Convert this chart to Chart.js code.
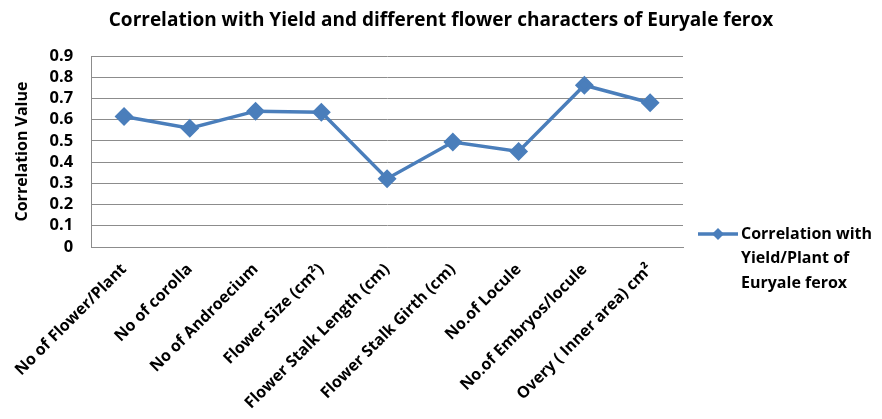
<!DOCTYPE html>
<html>
<head>
<meta charset="utf-8">
<script src="https://cdn.jsdelivr.net/npm/chart.js@4"></script>
<style>
    html, body { margin: 0; padding: 0; background: #fff; }
    #wrap { width: 882px; height: 419px; }
</style>
</head>
<body>
<div id="wrap"><canvas id="corrChart"></canvas></div>
<script>
// Karakterler ve korelasyon degerleri
const characters = [
    'No of Flower/Plant',
    'No of corolla',
    'No of Androecium',
    'Flower Size (cm\u00B2)',
    'Flower Stalk Length (cm)',
    'Flower Stalk Girth (cm)',
    'No.of Locule',
    'No.of Embryos/locule',
    'Overy ( Inner area) cm\u00B2'
];
const correlationValues = [0.615, 0.56, 0.64, 0.635, 0.322, 0.495, 0.45, 0.762, 0.68];
const yTicks = [0, 0.1, 0.2, 0.3, 0.4, 0.5, 0.6, 0.7, 0.8, 0.9];
const seriesLabel = ['Correlation with', 'Yield/Plant of', 'Euryale ferox'];
const chartTitle = 'Correlation with Yield and different flower characters of Euryale ferox';

const lineColor = '#4a7ebb';
const gridColor = '#8c8c8c';
const fontFamily = '"Open Sans", Lato, sans-serif';

// Baslik: tum tuval genisliginde ortali
const canvasTitle = {
    id: 'canvasTitle',
    afterDraw(chart) {
        const ctx = chart.ctx;
        ctx.save();
        ctx.fillStyle = '#000';
        ctx.font = 'bold 19px ' + fontFamily;
        ctx.textAlign = 'center';
        ctx.textBaseline = 'middle';
        ctx.fillText(chartTitle, chart.width / 2, 21);
        ctx.restore();
    }
};

// Sag taraftaki legend (cok satirli)
const sideLegend = {
    id: 'sideLegend',
    afterDraw(chart) {
        const ctx = chart.ctx;
        const area = chart.chartArea;
        const lines = chart.data.datasets[0].label;
        const x0 = area.right + 15;
        const lineH = 24.5;
        const yMid = 234;
        ctx.save();
        ctx.strokeStyle = lineColor;
        ctx.lineWidth = 3.5;
        ctx.beginPath();
        ctx.moveTo(x0, yMid);
        ctx.lineTo(x0 + 40, yMid);
        ctx.stroke();
        ctx.fillStyle = lineColor;
        ctx.beginPath();
        const cx = x0 + 20, r = 6;
        ctx.moveTo(cx, yMid - r);
        ctx.lineTo(cx + r, yMid);
        ctx.lineTo(cx, yMid + r);
        ctx.lineTo(cx - r, yMid);
        ctx.closePath();
        ctx.fill();
        ctx.fillStyle = '#000';
        ctx.font = 'bold 16px ' + fontFamily;
        ctx.textBaseline = 'middle';
        ctx.textAlign = 'left';
        lines.forEach((t, i) => ctx.fillText(t, x0 + 43, yMid + i * lineH));
        ctx.restore();
    }
};

const ctx = document.getElementById('corrChart').getContext('2d');
new Chart(ctx, {
    type: 'line',
    data: {
        labels: characters,
        datasets: [{
            label: seriesLabel,
            data: correlationValues,
            borderColor: lineColor,
            backgroundColor: lineColor,
            borderWidth: 3.5,
            pointStyle: 'rectRot',
            pointRadius: 7,
            pointHoverRadius: 7,
            tension: 0
        }]
    },
    options: {
        responsive: true,
        maintainAspectRatio: false,
        animation: false,
        layout: { padding: { left: 0, right: 199, top: 56, bottom: 0 } },
        plugins: {
            legend: { display: false },
            tooltip: { enabled: false },
            title: { display: false }
        },
        scales: {
            x: {
                offset: true,
                grid: { display: false, drawTicks: false },
                border: { display: true, color: gridColor, width: 1 },
                ticks: {
                    color: '#000',
                    font: { family: fontFamily, size: 16, weight: 'bold' },
                    minRotation: 45,
                    maxRotation: 45,
                    padding: 13,
                    autoSkip: false
                },
                afterFit(scale) { scale.height = 172; }
            },
            y: {
                min: 0,
                max: 0.9,
                afterBuildTicks(scale) { scale.ticks = yTicks.map(v => ({ value: v })); },
                grid: { color: gridColor, lineWidth: 1, drawTicks: false },
                border: { display: true, color: gridColor, width: 1 },
                ticks: {
                    color: '#000',
                    font: { family: fontFamily, size: 16.5, weight: 'bold' },
                    padding: 18,
                    autoSkip: false,
                    callback: v => (v === 0 ? '0' : v.toFixed(1))
                },
                title: {
                    display: true,
                    text: 'Correlation Value',
                    color: '#000',
                    font: { family: fontFamily, size: 16, weight: 'bold' },
                    padding: { top: 12, bottom: 4 }
                },
                afterFit(scale) { scale.width = 90; }
            }
        }
    },
    plugins: [canvasTitle, sideLegend]
});
</script>
</body>
</html>
